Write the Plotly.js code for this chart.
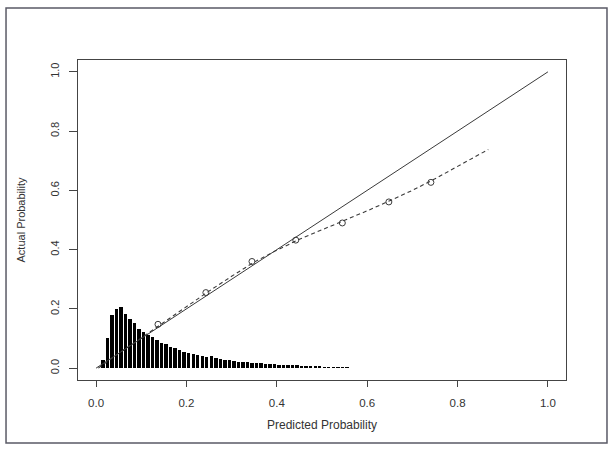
<!DOCTYPE html>
<html>
<head>
<meta charset="utf-8">
<script src="https://cdn.plot.ly/plotly-3.0.1.min.js"></script>
<style>
  html, body { margin: 0; padding: 0; background: #ffffff; }
  #chart { width: 614px; height: 451px; }
</style>
</head>
<body>
<div id="chart"></div>
<script>
// Histogram of predicted probabilities (bin centres, relative heights)
const binCenters = [0.015, 0.025, 0.035, 0.045, 0.055, 0.065, 0.075, 0.085, 0.095, 0.105,
  0.115, 0.125, 0.135, 0.145, 0.155, 0.165, 0.175, 0.185, 0.195, 0.205,
  0.215, 0.225, 0.235, 0.245, 0.255, 0.265, 0.275, 0.285, 0.295, 0.305,
  0.315, 0.325, 0.335, 0.345, 0.355, 0.365, 0.375, 0.385, 0.395, 0.405,
  0.415, 0.425, 0.435, 0.445, 0.455, 0.465, 0.475, 0.485, 0.495, 0.505,
  0.515, 0.525, 0.535, 0.545, 0.555, 0.565];
const binHeights = [0.027, 0.102, 0.181, 0.201, 0.206, 0.183, 0.167, 0.151, 0.133, 0.121,
  0.111, 0.105, 0.095, 0.084, 0.082, 0.073, 0.068, 0.062, 0.056, 0.052,
  0.049, 0.045, 0.042, 0.038, 0.040, 0.033, 0.031, 0.029, 0.026, 0.025,
  0.022, 0.021, 0.020, 0.018, 0.017, 0.016, 0.015, 0.014, 0.013, 0.012,
  0.011, 0.011, 0.010, 0.009, 0.008, 0.008, 0.007, 0.006, 0.006, 0.005,
  0.005, 0.004, 0.004, 0.003, 0.003, 0.002];

// Ideal calibration line
const idealX = [0, 1];
const idealY = [0, 1];

// Smoothed calibration curve (dashed)
const curveX = [0.005, 0.05, 0.10, 0.15, 0.20, 0.25, 0.30, 0.35, 0.40, 0.45,
  0.50, 0.55, 0.60, 0.65, 0.70, 0.75, 0.80, 0.85, 0.868];
const curveY = [0.000, 0.050, 0.102, 0.155, 0.207, 0.260, 0.310, 0.358, 0.398, 0.435,
  0.467, 0.498, 0.531, 0.565, 0.600, 0.639, 0.681, 0.723, 0.738];

// Grouped observed points (circles)
const groupX = [0.137, 0.243, 0.345, 0.442, 0.545, 0.648, 0.741];
const groupY = [0.148, 0.255, 0.360, 0.432, 0.490, 0.561, 0.627];

const xTicks = [0, 0.2, 0.4, 0.6, 0.8, 1.0];
const xTickText = ['0.0', '0.2', '0.4', '0.6', '0.8', '1.0'];
const yTicks = [0, 0.2, 0.4, 0.6, 0.8, 1.0];
const yTickText = ['0.0', '0.2', '0.4', '0.6', '0.8', '1.0'];

const FONT = 'Liberation Sans, Arial, sans-serif';

const traces = [
  {
    type: 'bar', x: binCenters, y: binHeights, width: 0.0075,
    marker: { color: '#000000', line: { width: 0 } },
    showlegend: false, hoverinfo: 'skip'
  },
  {
    type: 'scatter', mode: 'lines', x: idealX, y: idealY,
    line: { color: '#3a3a3a', width: 1 },
    showlegend: false
  },
  {
    type: 'scatter', mode: 'lines', x: curveX, y: curveY,
    line: { color: '#3a3a3a', width: 1.1, dash: '4px,3px' },
    showlegend: false
  },
  {
    type: 'scatter', mode: 'markers', x: groupX, y: groupY,
    marker: { symbol: 'circle-open', size: 6, color: '#3a3a3a', line: { width: 1, color: '#3a3a3a' } },
    showlegend: false
  }
];

const layout = {
  width: 614, height: 451,
  margin: { l: 78, r: 48, t: 60, b: 71 },
  paper_bgcolor: '#ffffff', plot_bgcolor: '#ffffff',
  font: { family: FONT, size: 11, color: '#333333' },
  bargap: 0,
  xaxis: {
    range: [-0.04, 1.04], fixedrange: true,
    tickvals: xTicks, ticktext: xTickText,
    ticks: 'outside', ticklen: 6, tickwidth: 1, tickcolor: '#444444',
    ticklabelstandoff: 6,
    showline: true, linecolor: '#444444', linewidth: 1, mirror: true,
    showgrid: false, zeroline: false,
    tickfont: { family: FONT, size: 11.5, color: '#333333' },
    title: { text: 'Predicted Probability', font: { family: FONT, size: 12, color: '#333333' }, standoff: 12 },
    automargin: false
  },
  yaxis: {
    range: [-0.04, 1.04], fixedrange: true,
    tickvals: yTicks, ticktext: yTickText, tickangle: -90,
    ticks: 'outside', ticklen: 8, tickwidth: 1, tickcolor: '#444444',
    ticklabelstandoff: 6,
    showline: true, linecolor: '#444444', linewidth: 1, mirror: true,
    showgrid: false, zeroline: false,
    tickfont: { family: FONT, size: 11, color: '#333333' },
    title: { text: 'Actual Probability', font: { family: FONT, size: 11, color: '#333333' }, standoff: 20 },
    automargin: false
  },
  shapes: [
    {
      type: 'rect', xref: 'paper', yref: 'paper',
      x0: -0.1475, x1: 1.084, y0: -0.197, y1: 1.1625,
      line: { color: '#5a5a66', width: 1.5 }, fillcolor: 'rgba(0,0,0,0)', layer: 'below'
    }
  ]
};

Plotly.newPlot('chart', traces, layout, { staticPlot: true, displayModeBar: false });
</script>
</body>
</html>
